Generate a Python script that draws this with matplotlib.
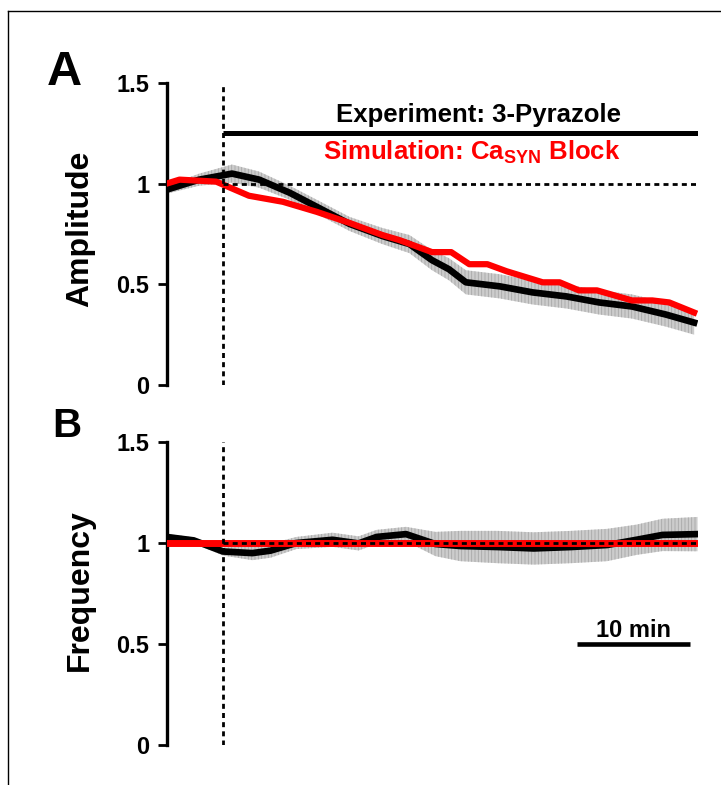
import matplotlib
matplotlib.use("Agg")
import matplotlib.pyplot as plt
from matplotlib.lines import Line2D

plt.rcParams["font.family"] = "Liberation Sans"
plt.rcParams["font.weight"] = "bold"
plt.rcParams["hatch.linewidth"] = 0.6
plt.rcParams["mathtext.fontset"] = "custom"
plt.rcParams["mathtext.rm"] = "Liberation Sans:bold"
plt.rcParams["mathtext.bf"] = "Liberation Sans:bold"

# ---- data (time in min) ----
# Panel A: amplitude, experiment (mean +/- error) and simulation
amp_t = [0, 2.9, 5.8, 8.2, 10.9, 13.3, 16.2, 19.1, 21.5, 23.5, 25.0, 26.5,
         29.5, 32.4, 35.4, 38.3, 41.2, 44.2, 46.7]
amp_exp = [0.97, 1.02, 1.05, 1.02, 0.955, 0.885, 0.80, 0.74, 0.70, 0.62, 0.575,
           0.51, 0.49, 0.46, 0.44, 0.41, 0.39, 0.35, 0.31]
amp_err = [0.02, 0.03, 0.045, 0.04, 0.035, 0.035, 0.035, 0.04, 0.045, 0.05,
           0.055, 0.06, 0.06, 0.06, 0.06, 0.06, 0.06, 0.06, 0.06]

sim_t = [0, 1.15, 4.4, 7.3, 10.3, 13.3, 16.2, 19.1, 20.6, 23.5, 25.2, 26.8,
         28.4, 30.1, 33.3, 34.8, 36.5, 38.1, 41.2, 43.0, 44.5, 46.7]
sim_amp = [1.0, 1.02, 1.01, 0.94, 0.91, 0.86, 0.805, 0.745, 0.72, 0.66, 0.66,
           0.60, 0.60, 0.565, 0.51, 0.51, 0.47, 0.47, 0.42, 0.42, 0.41, 0.36]

# Panel B: frequency
freq_t = [0, 2.4, 5.0, 7.6, 9.2, 11.5, 14.7, 17.0, 18.6, 21.2, 23.8, 26.0,
          29.3, 32.5, 35.8, 39.0, 41.6, 43.9, 47]
freq_exp = [1.03, 1.013, 0.958, 0.95, 0.962, 1.0, 1.016, 0.998, 1.03, 1.044,
            0.995, 0.985, 0.98, 0.973, 0.98, 0.99, 1.016, 1.04, 1.044]
freq_err = [0.015, 0.015, 0.02, 0.035, 0.035, 0.03, 0.035, 0.035, 0.035, 0.036,
            0.06, 0.075, 0.08, 0.08, 0.08, 0.08, 0.075, 0.08, 0.085]
sim_freq_t = [0, 47]
sim_freq = [1.0, 1.0]

drug_on = 5
t_end = 47
yticks = [0, 0.5, 1, 1.5]
yticklabels = ["0", "0.5", "1", "1.5"]

W, H = 721, 785
fig = plt.figure(figsize=(W / 100, H / 100), dpi=100)

# figure frame (left and top edges)
fig.add_artist(Line2D([8 / W, 8 / W], [0, 1 - 11 / H], transform=fig.transFigure,
                      color="black", lw=1))
fig.add_artist(Line2D([8 / W, 1], [1 - 11 / H, 1 - 11 / H], transform=fig.transFigure,
                      color="black", lw=1))

axA = fig.add_axes([166.5 / W, (H - 385) / H, 531 / W, 302 / H])
axB = fig.add_axes([166.5 / W, (H - 745) / H, 531 / W, 303 / H])

dash = (0, (1.8, 1.5))


def band(ax, t, y, err):
    lo = [v - e for v, e in zip(y, err)]
    hi = [v + e for v, e in zip(y, err)]
    ax.fill_between(t, lo, hi, facecolor="#cccccc", edgecolor="#a8a8a8",
                    hatch="|||||", linewidth=0, zorder=1)


def style(ax, ylabel, label_y):
    ax.set_xlim(0, t_end)
    ax.set_ylim(0, 1.5)
    for s in ["top", "right", "bottom"]:
        ax.spines[s].set_visible(False)
    ax.spines["left"].set_linewidth(2.4)
    ax.set_xticks([])
    ax.set_yticks(yticks)
    ax.set_yticklabels(yticklabels)
    ax.tick_params(axis="y", direction="out", length=6.5, width=2, pad=6,
                   labelsize=17)
    ax.patch.set_alpha(0)
    fig.text(80 / W, 1 - label_y / H, ylabel, rotation=90, ha="center",
             va="center", fontsize=23)
    ax.axvline(drug_on, color="black", lw=2, ls=dash, zorder=5)
    ax.hlines(1, drug_on, t_end, color="black", lw=2, ls=dash, zorder=5)


# Panel A
band(axA, amp_t, amp_exp, amp_err)
axA.plot(amp_t, amp_exp, color="black", lw=4.8, zorder=3)
axA.plot(sim_t, sim_amp, color="#ff0000", lw=4.5, zorder=4)
style(axA, "Amplitude", 229)
axA.hlines(1.254, drug_on, t_end, color="black", lw=3.6)
axA.text(27.6, 1.308, "Experiment: 3-Pyrazole", ha="center", va="baseline",
         fontsize=18.5, color="black")
axA.text(27.0, 1.118, r"Simulation: Ca$_{\mathrm{SYN}}$ Block", ha="center",
         va="baseline", fontsize=18.5, color="#ff0000")

# Panel B
band(axB, freq_t, freq_exp, freq_err)
axB.plot(freq_t, freq_exp, color="black", lw=4.8, zorder=3)
axB.plot(sim_freq_t, sim_freq, color="#ff0000", lw=5, zorder=4)
style(axB, "Frequency", 590)

# scale bar
axB.hlines(0.5, 36.3, 46.3, color="black", lw=3.3)
axB.text(41.3, 0.535, "10 min", ha="center", va="baseline", fontsize=17)

fig.text(64.5 / W, 1 - 85 / H, "A", ha="center", va="baseline", fontsize=35)
fig.text(66.7 / W, 1 - 436.7 / H, "B", ha="center", va="baseline", fontsize=29)

fig.savefig("out.png", dpi=100)
